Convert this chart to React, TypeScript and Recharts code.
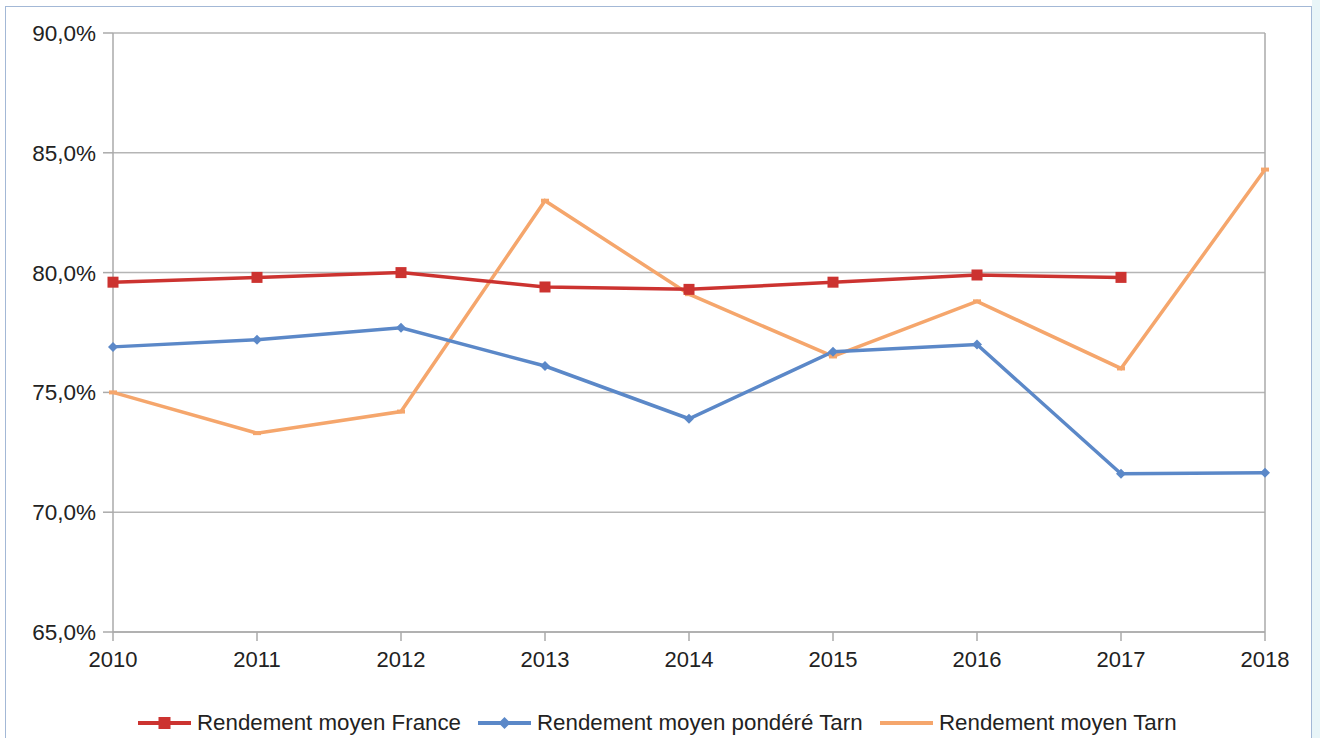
import { CartesianGrid, Line, LineChart, ReferenceLine, XAxis, YAxis } from "recharts";

const years = ["2010", "2011", "2012", "2013", "2014", "2015", "2016", "2017", "2018"];
const franceValues: (number | null)[] = [79.6, 79.8, 80.0, 79.4, 79.3, 79.6, 79.9, 79.8, null];
const tarnWeightedValues = [76.9, 77.2, 77.7, 76.1, 73.9, 76.7, 77.0, 71.6, 71.65];
const tarnValues = [75.0, 73.3, 74.2, 83.0, 79.1, 76.5, 78.8, 76.0, 84.3];
const yTicks = [65, 70, 75, 80, 85, 90];

const seriesNames = {
  france: "Rendement moyen France",
  tarnWeighted: "Rendement moyen pondéré Tarn",
  tarn: "Rendement moyen Tarn",
};

const RED = "#cc3330";
const BLUE = "#5b88c8";
const ORANGE = "#f5a66c";
const FONT = '"Liberation Sans", Arial, sans-serif';

const data = years.map((year, i) => ({
  year,
  france: franceValues[i],
  tarnWeighted: tarnWeightedValues[i],
  tarn: tarnValues[i],
}));

const fmt = (v: number) => v.toFixed(1).replace(".", ",") + "%";

function SquareDot(props: any) {
  const { cx, cy, value, index } = props;
  if (value == null || cx == null) return <g key={`sq-${index}`} />;
  return <rect key={`sq-${index}`} x={cx - 5.5} y={cy - 5.5} width={11} height={11} fill={RED} />;
}

function DiamondDot(props: any) {
  const { cx, cy, index } = props;
  if (cx == null) return <g key={`dm-${index}`} />;
  const r = 5;
  return (
    <path
      key={`dm-${index}`}
      d={`M${cx},${cy - r} L${cx + r},${cy} L${cx},${cy + r} L${cx - r},${cy} Z`}
      fill={BLUE}
    />
  );
}

function DashDot(props: any) {
  const { cx, cy, index } = props;
  if (cx == null) return <g key={`ds-${index}`} />;
  return <rect key={`ds-${index}`} x={cx - 4} y={cy - 2} width={8} height={4} fill={ORANGE} />;
}

// legend entries, left edge of each icon
const legendItems = [
  { name: seriesNames.france, color: RED, marker: "square", left: 138 },
  { name: seriesNames.tarnWeighted, color: BLUE, marker: "diamond", left: 478 },
  { name: seriesNames.tarn, color: ORANGE, marker: "none", left: 880 },
];

function LegendIcon({ color, marker }: { color: string; marker: string }) {
  return (
    <svg width={53} height={14} style={{ marginRight: 6 }}>
      <line x1={0} y1={7} x2={53} y2={7} stroke={color} strokeWidth={4} />
      {marker === "square" && <rect x={20.5} y={1} width={12} height={12} fill={color} />}
      {marker === "diamond" && <path d="M26.5,1 L32.5,7 L26.5,13 L20.5,7 Z" fill={color} />}
    </svg>
  );
}

export default function App() {
  return (
    <div
      style={{
        position: "absolute",
        left: 0,
        top: 0,
        width: 1320,
        height: 738,
        background: "#ffffff",
        overflow: "hidden",
        fontFamily: FONT,
      }}
    >
      <div style={{ position: "absolute", left: 1312, top: 0, width: 8, height: 738, background: "#e8f5f8" }} />
      <div
        style={{
          position: "absolute",
          left: 5,
          top: 6,
          width: 1305,
          height: 740,
          border: "1px solid #a3b8d6",
          borderBottom: "none",
        }}
      />
      <div style={{ position: "absolute", left: 0, top: 0 }}>
        <LineChart width={1320} height={738} data={data} margin={{ top: 33, right: 55, left: 0, bottom: 76 }}>
          <CartesianGrid vertical={false} stroke="#b5b5b5" strokeWidth={1.5} />
          <XAxis
            dataKey="year"
            height={30}
            stroke="#aaaaaa"
            strokeWidth={1.5}
            tickSize={9}
            tickMargin={10}
            tick={{ fill: "#222222", fontSize: 22, fontFamily: FONT }}
            interval={0}
            padding={{ left: 0, right: 0 }}
          />
          <YAxis
            width={113}
            domain={[65, 90]}
            ticks={yTicks}
            tickFormatter={fmt}
            stroke="#aaaaaa"
            strokeWidth={1.5}
            tickSize={10}
            tickMargin={7}
            tick={{ fill: "#222222", fontSize: 22.5, fontFamily: FONT }}
          />
          <ReferenceLine x="2018" stroke="#aaaaaa" strokeWidth={1.5} />
          <Line
            dataKey="tarn"
            name={seriesNames.tarn}
            stroke={ORANGE}
            strokeWidth={3.5}
            dot={<DashDot />}
            activeDot={false}
            isAnimationActive={false}
          />
          <Line
            dataKey="tarnWeighted"
            name={seriesNames.tarnWeighted}
            stroke={BLUE}
            strokeWidth={3.5}
            dot={<DiamondDot />}
            activeDot={false}
            isAnimationActive={false}
          />
          <Line
            dataKey="france"
            name={seriesNames.france}
            stroke={RED}
            strokeWidth={3.5}
            dot={<SquareDot />}
            activeDot={false}
            isAnimationActive={false}
          />
        </LineChart>
      </div>
      {legendItems.map((item) => (
        <div
          key={item.name}
          style={{
            position: "absolute",
            left: item.left,
            top: 710,
            height: 26,
            display: "flex",
            alignItems: "center",
            fontSize: 22.3,
            color: "#222222",
            whiteSpace: "nowrap",
          }}
        >
          <LegendIcon color={item.color} marker={item.marker} />
          <span>{item.name}</span>
        </div>
      ))}
    </div>
  );
}
